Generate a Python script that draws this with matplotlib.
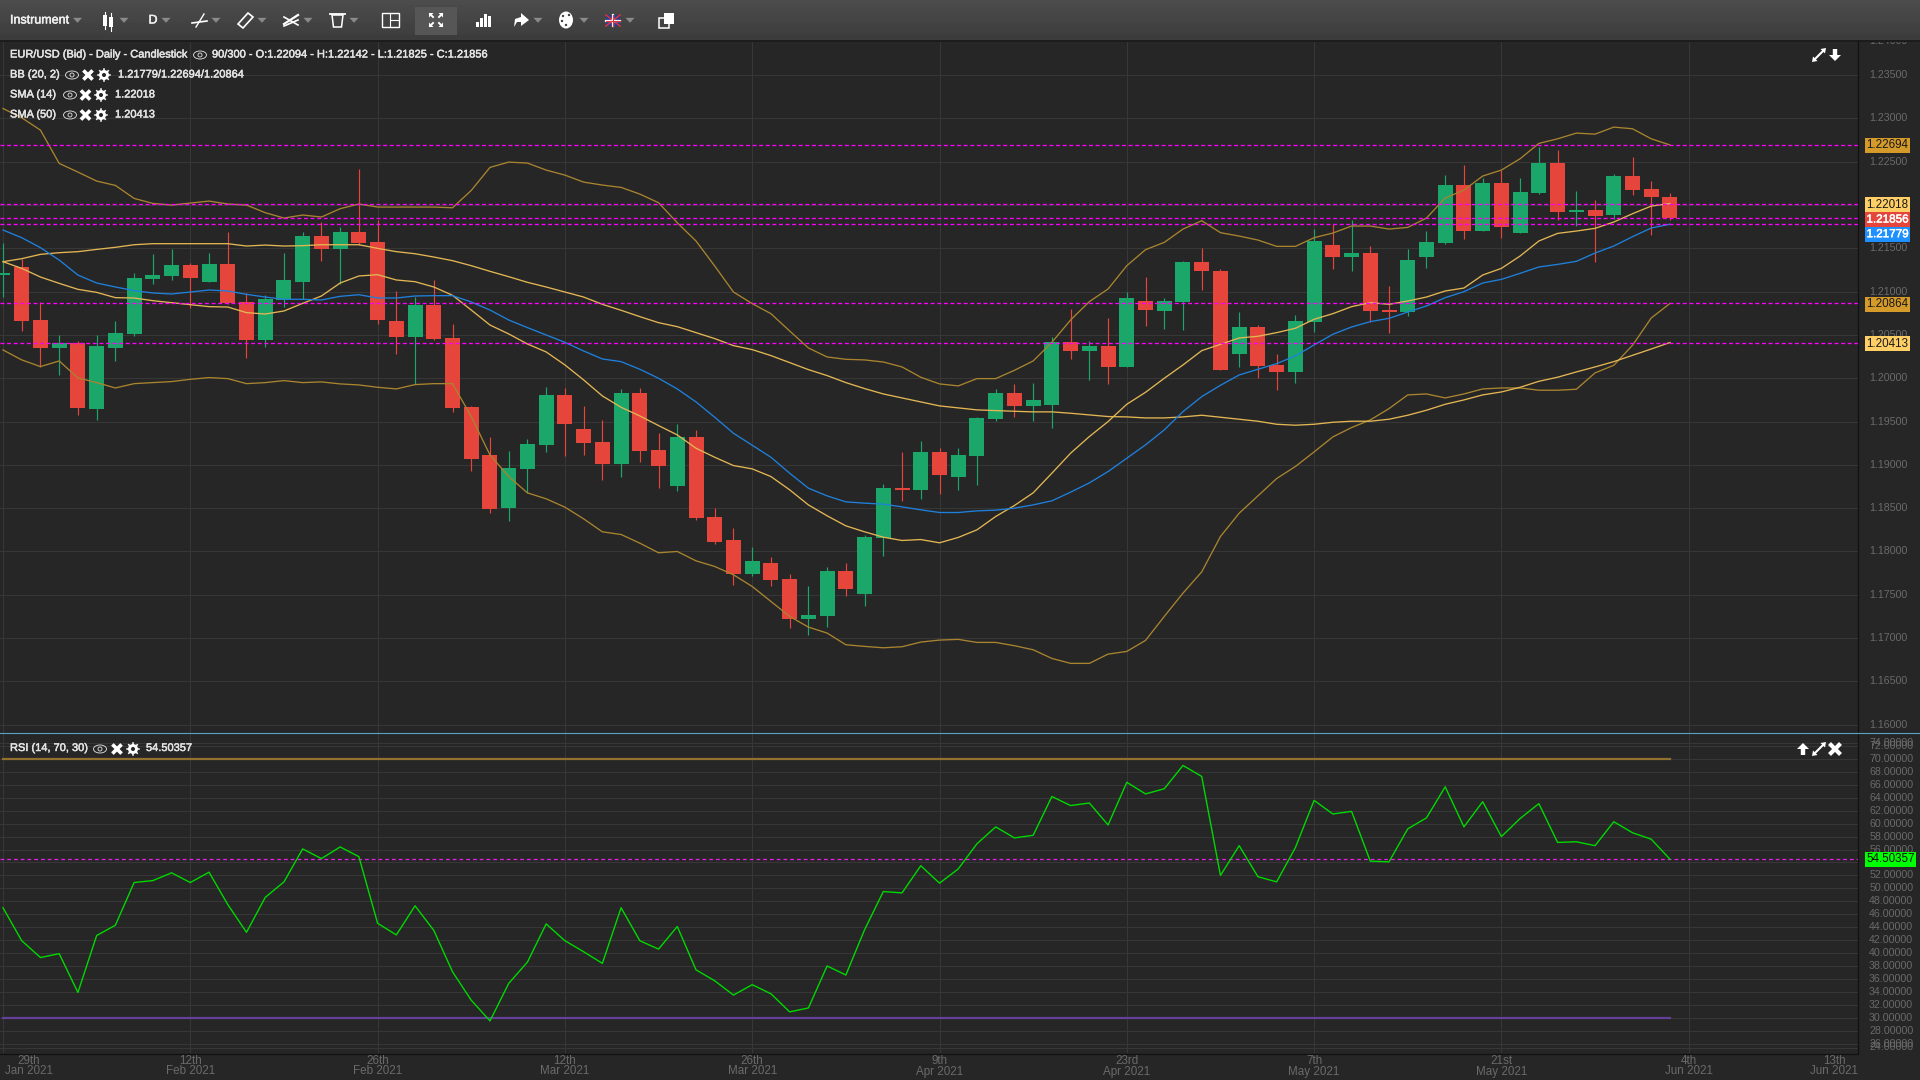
import numpy as np
import matplotlib
matplotlib.use("Agg")
import matplotlib.pyplot as plt
import matplotlib.patheffects as pe
from matplotlib.patches import Rectangle, Ellipse, Circle, Polygon
from matplotlib.transforms import ScaledTranslation

plt.rcParams['font.family'] = ['Liberation Sans', 'DejaVu Sans']

opens = [1.21192,1.21285,1.20673,1.2035,1.20408,1.19646,1.2035,1.20512,1.21146,1.21181,
         1.21308,1.21112,1.21319,1.20881,1.20442,1.20904,1.21112,1.21642,1.21492,1.21688,
         1.21573,1.20662,1.20477,1.20846,1.20465,1.19669,1.19115,1.18504,1.18954,1.19231,
         1.19808,1.19415,1.19265,1.19012,1.19831,1.19173,1.18758,1.19323,1.184,1.18135,
         1.17742,1.17869,1.17685,1.17223,1.17258,1.17777,1.17512,1.18158,1.18735,1.18712,
         1.1915,1.18862,1.19104,1.19531,1.19831,1.19681,1.19692,1.20419,1.20315,1.20373,
         1.20131,1.20892,1.20777,1.20881,1.21342,1.21238,1.20281,1.20592,1.2015,1.20069,
         1.20646,1.21535,1.21396,1.21442,1.20785,1.20762,1.21396,1.21558,1.22227,1.21696,
         1.2225,1.21673,1.22135,1.22481,1.21915,1.21938,1.21881,1.22331,1.22181,1.22094]
closes = [1.21219,1.20662,1.2035,1.20404,1.19658,1.20373,1.20523,1.21158,1.21192,1.21308,
          1.21158,1.21319,1.20869,1.20442,1.20915,1.21135,1.21642,1.21492,1.21688,1.21562,
          1.20673,1.20477,1.20846,1.20454,1.19658,1.19069,1.18492,1.18965,1.19242,1.19808,
          1.19473,1.19254,1.19012,1.19831,1.19162,1.18988,1.19323,1.18388,1.18112,1.17742,
          1.17892,1.17673,1.17223,1.17269,1.17777,1.17569,1.18169,1.18735,1.18712,1.1915,
          1.18885,1.19115,1.19542,1.19831,1.19681,1.1975,1.20419,1.20315,1.20373,1.20131,
          1.20927,1.20788,1.20892,1.21342,1.21238,1.20096,1.20592,1.20138,1.20069,1.20658,
          1.21581,1.21396,1.21442,1.20773,1.20762,1.21362,1.21569,1.22227,1.21696,1.2225,
          1.21742,1.22146,1.22481,1.21915,1.21938,1.21869,1.22331,1.22169,1.22088,1.21856]
highs = [1.21565,1.21373,1.20877,1.205,1.20431,1.205,1.20662,1.21215,1.21435,1.21492,
         1.21331,1.21446,1.21688,1.20981,1.20962,1.21446,1.21688,1.21804,1.21746,1.22417,
         1.21827,1.21008,1.20938,1.21135,1.20627,1.19681,1.19323,1.19162,1.193,1.199,
         1.19888,1.19681,1.19519,1.19877,1.19885,1.19369,1.19473,1.19404,1.18504,1.18273,
         1.18054,1.17938,1.17742,1.17604,1.17823,1.17869,1.18192,1.18781,1.1915,1.19277,
         1.19196,1.19196,1.19554,1.19877,1.19935,1.19946,1.20477,1.208,1.20431,1.20696,
         1.20992,1.21169,1.20927,1.21354,1.21504,1.21262,1.20765,1.20612,1.20277,1.20727,
         1.21719,1.21777,1.21823,1.21523,1.21062,1.21488,1.21696,1.22342,1.22458,1.22308,
         1.224,1.22308,1.22665,1.22631,1.22158,1.22054,1.22354,1.2255,1.22273,1.22142]
lows = [1.20935,1.2055,1.20135,1.20038,1.19577,1.19519,1.20204,1.20488,1.21088,1.21135,
        1.20815,1.21112,1.20858,1.20235,1.20362,1.20827,1.20915,1.21354,1.21088,1.2154,
        1.20627,1.20281,1.19935,1.20442,1.19612,1.18931,1.18446,1.18354,1.18673,1.1915,
        1.19104,1.19115,1.18827,1.18862,1.19035,1.18735,1.187,1.18365,1.18088,1.17615,
        1.17719,1.17604,1.17119,1.17038,1.1713,1.17488,1.17373,1.1795,1.18585,1.18608,
        1.18665,1.18712,1.18769,1.19508,1.19554,1.19508,1.19427,1.20223,1.19981,1.19935,
        1.20125,1.20604,1.20569,1.20558,1.2102,1.20096,1.20131,1.2,1.19862,1.19942,
        1.20531,1.21258,1.21235,1.20646,1.20519,1.20715,1.21269,1.21546,1.21604,1.21696,
        1.21615,1.21673,1.22123,1.21823,1.21754,1.21338,1.21835,1.22112,1.2165,1.21825]
bb_upper = [1.23115,1.23008,1.22865,1.22481,1.22381,1.22277,1.22227,1.22077,1.22019,1.22,
            1.22023,1.22046,1.22012,1.22,1.21912,1.2185,1.21885,1.21862,1.21958,1.22012,
            1.21977,1.21977,1.21977,1.21977,1.21969,1.22169,1.22435,1.22496,1.22485,1.22404,
            1.22346,1.22265,1.22231,1.22204,1.22127,1.22027,1.21796,1.21585,1.21296,1.20996,
            1.20862,1.20746,1.20546,1.2035,1.20246,1.20219,1.20212,1.20188,1.20131,1.20012,
            1.19935,1.19912,1.19996,1.19996,1.20092,1.202,1.20415,1.20673,1.20885,1.21031,
            1.213,1.21485,1.21569,1.21723,1.21819,1.21681,1.21642,1.21596,1.21523,1.21523,
            1.21623,1.21677,1.21758,1.21758,1.21723,1.21742,1.2185,1.22081,1.22173,1.22335,
            1.22404,1.22535,1.22712,1.22765,1.22831,1.22819,1.229,1.22881,1.22765,1.22694]
bb_mid = [1.21712,1.21623,1.21508,1.21365,1.21192,1.211,1.21054,1.21012,1.20985,1.20973,
          1.20996,1.21019,1.21008,1.20969,1.20938,1.20912,1.20912,1.20904,1.20946,1.20965,
          1.20927,1.20927,1.2095,1.20954,1.20954,1.20881,1.20788,1.20673,1.20585,1.205,
          1.20415,1.20315,1.20223,1.20192,1.20104,1.2,1.19877,1.19727,1.1955,1.19365,
          1.19227,1.19088,1.18904,1.18731,1.18642,1.18573,1.18558,1.18546,1.18515,1.18481,
          1.1845,1.1845,1.18469,1.18477,1.185,1.18538,1.18585,1.18685,1.18792,1.18923,
          1.19077,1.19231,1.19404,1.19615,1.19788,1.19919,1.20038,1.20104,1.20169,1.20258,
          1.20385,1.20508,1.20592,1.20654,1.20692,1.20765,1.20835,1.20931,1.21,1.211,
          1.21142,1.21212,1.21285,1.21315,1.2135,1.21446,1.21527,1.21635,1.21735,1.21779]
bb_lower = [1.20327,1.20212,1.20135,1.202,1.20004,1.1995,1.19888,1.19938,1.1995,1.19962,
            1.19988,1.20008,1.19996,1.19938,1.1995,1.19973,1.1995,1.19958,1.19935,1.19923,
            1.19896,1.19877,1.19927,1.19938,1.19938,1.19558,1.19115,1.18865,1.18677,1.18608,
            1.18512,1.18377,1.18227,1.18196,1.18096,1.17985,1.18,1.17892,1.17827,1.17731,
            1.17596,1.17423,1.1725,1.17127,1.17058,1.16923,1.16904,1.16888,1.169,1.16954,
            1.16977,1.16985,1.1695,1.1695,1.16912,1.16865,1.16765,1.16708,1.16708,1.16815,
            1.16846,1.16973,1.1725,1.17519,1.17765,1.18173,1.18442,1.18642,1.18842,1.18981,
            1.1915,1.19323,1.19431,1.19519,1.1965,1.19808,1.19819,1.19773,1.19819,1.19877,
            1.19888,1.19888,1.19862,1.19862,1.19873,1.20062,1.2015,1.20381,1.20696,1.20864]
sma14 = [1.21346,1.21269,1.21169,1.21096,1.21027,1.20992,1.20931,1.20927,1.20896,1.20873,
         1.2085,1.20827,1.20823,1.20758,1.20742,1.20777,1.20865,1.2095,1.211,1.21181,
         1.21196,1.21135,1.21115,1.21054,1.20958,1.20788,1.20615,1.20512,1.20396,1.20304,
         1.20154,1.19981,1.19796,1.19665,1.19565,1.19454,1.19346,1.19192,1.19088,1.18992,
         1.18954,1.18865,1.18712,1.18538,1.18412,1.18296,1.18227,1.18165,1.18127,1.18138,
         1.181,1.18162,1.1825,1.18404,1.18531,1.18677,1.18904,1.19135,1.19327,1.195,
         1.197,1.19838,1.2,1.20154,1.20319,1.20392,1.20465,1.20485,1.20527,1.20577,
         1.20681,1.20746,1.20827,1.20873,1.20854,1.20892,1.20938,1.21008,1.21042,1.21192,
         1.21269,1.21412,1.21585,1.21673,1.217,1.21731,1.21804,1.219,1.21988,1.22018]
sma50 = [1.21346,1.21381,1.21431,1.2145,1.21462,1.21488,1.21512,1.21542,1.21554,1.21554,
         1.21554,1.21554,1.21554,1.21527,1.21538,1.21527,1.21531,1.21542,1.21542,1.21542,
         1.215,1.21462,1.21438,1.214,1.21358,1.213,1.21235,1.21173,1.21108,1.21054,
         1.20996,1.20938,1.20854,1.20785,1.20712,1.20642,1.20596,1.20527,1.20458,1.20377,
         1.20331,1.20262,1.20181,1.201,1.20031,1.1995,1.19881,1.19819,1.19773,1.19727,
         1.19681,1.19658,1.19635,1.19627,1.19619,1.19612,1.19612,1.19596,1.19577,1.19558,
         1.19554,1.19542,1.19542,1.19554,1.19573,1.1955,1.19527,1.19504,1.19469,1.19458,
         1.19469,1.19492,1.19504,1.19504,1.19527,1.19573,1.19631,1.197,1.1975,1.19808,
         1.19842,1.19896,1.19965,1.20012,1.20073,1.20131,1.20192,1.20265,1.20338,1.20413]
rsi = [47.0,41.9,39.3,39.9,33.9,42.7,44.3,50.9,51.2,52.4,
       50.9,52.5,47.5,43.2,48.6,51.0,56.1,54.6,56.4,54.9,
       44.6,42.8,47.3,43.5,37.1,32.7,29.5,35.3,38.6,44.5,
       41.9,40.2,38.4,47.0,41.9,40.6,44.1,37.4,35.7,33.5,
       35.1,33.7,30.9,31.5,38.0,36.6,43.6,49.5,49.3,53.5,
       50.8,53.0,56.9,59.5,57.8,58.2,64.2,62.8,63.2,59.8,
       66.4,64.6,65.4,69.0,67.3,52.0,56.6,51.8,51.0,56.3,
       63.6,61.5,61.9,54.2,54.1,59.2,60.9,65.7,59.5,63.4,
       58.0,60.8,63.1,57.1,57.2,56.6,60.3,58.6,57.6,54.50357]

price_levels = [1.22694, 1.22018, 1.21856, 1.21779, 1.20864, 1.20413]
price_ticks = [1.16,1.165,1.17,1.175,1.18,1.185,1.19,1.195,1.20,1.205,1.21,1.215,1.22,1.225,1.23,1.235]
rsi_ticks = list(range(26, 74, 2))
date_ticks = [0,10,20,30,40,50,60,70,80,90,100]
date_top = ['29th','12th','26th','12th','26th','9th','23rd','7th','21st','4th','13th']
date_bot = ['Jan 2021','Feb 2021','Feb 2021','Mar 2021','Mar 2021','Apr 2021','Apr 2021','May 2021','May 2021','Jun 2021','Jun 2021']

BG = '#262626'; GRID = '#373737'; TICK = '#6a6a6a'
GREEN = '#1ba76a'; RED = '#e5453b'; BB_C = '#a8842f'; SMA_C = '#e3b654'; BLUE = '#1f80dc'
MAG = '#ff00ff'

W, H = 1920, 1080
fig = plt.figure(figsize=(W/100, H/100), dpi=100, facecolor=BG)

def make_axes(top, bottom, right=1858):
    a = fig.add_axes([0, 1-bottom/H, right/W, (bottom-top)/H], facecolor=BG)
    for s in a.spines.values():
        s.set_visible(False)
    return a

idx = np.arange(len(opens))
xlim = (-3/18.73, 1855/18.73)
lift = ScaledTranslation(0, 1/100, fig.dpi_scale_trans)

ax = make_axes(40, 733)
ax.set_xlim(*xlim); ax.set_ylim(1.15904, 1.23906)
ax.set_yticks(price_ticks)
ax.set_yticklabels([f'{t:.5f}' for t in price_ticks])
ax.yaxis.tick_right()
ax.tick_params(axis='y', length=0, pad=8, labelsize=7.7, labelcolor=TICK)
ax.tick_params(axis='x', length=0, labelbottom=False)
ax.set_xticks(date_ticks[:-1])
ax.grid(True, color=GRID, lw=0.8, zorder=1)
ax.set_axisbelow(True)
for lab in ax.get_yticklabels():
    lab.set_transform(lab.get_transform() + lift)

o, c, hi, lo = map(np.array, (opens, closes, highs, lows))
col = [GREEN if cc > oo else RED for oo, cc in zip(o, c)]
ax.vlines(idx, lo, hi, colors=col, lw=0.85, zorder=3)
ax.bar(idx, np.abs(c-o), bottom=np.minimum(o, c), width=0.8, color=col, lw=0, zorder=3)

ax.plot(idx, bb_upper, color=BB_C, lw=0.95, zorder=4)
ax.plot(idx, bb_lower, color=BB_C, lw=0.95, zorder=4)
ax.plot(idx, sma50, color=SMA_C, lw=0.95, zorder=4)
ax.plot(idx, sma14, color=SMA_C, lw=0.95, zorder=4)
ax.plot(idx, bb_mid, color=BLUE, lw=0.95, zorder=4)
for lv in price_levels:
    ax.axhline(lv, color=MAG, lw=0.95, dashes=(3.0, 2.0), zorder=5)

ax2 = make_axes(733, 1053)
ax2.set_xlim(*xlim); ax2.set_ylim(24.54, 74.02)
ax2.set_yticks(rsi_ticks)
ax2.set_yticklabels([f'{t:.5f}' for t in rsi_ticks])
ax2.yaxis.tick_right()
ax2.tick_params(axis='y', length=0, pad=8, labelsize=7.7, labelcolor=TICK)
ax2.tick_params(axis='x', length=0, labelbottom=False)
ax2.set_xticks(date_ticks[:-1])
ax2.grid(True, color=GRID, lw=0.8, zorder=1)
ax2.set_axisbelow(True)
for lab in ax2.get_yticklabels():
    lab.set_transform(lab.get_transform() + lift)
ax2.axhline(72.43, color=GRID, lw=0.8, zorder=1)
ax2.axhline(25.3, color=GRID, lw=0.8, zorder=1)
ax2.plot([0, 89], [70, 70], color='#927030', lw=1.6, zorder=3)
ax2.plot([0, 89], [30, 30], color='#64409a', lw=1.6, zorder=3)
ax2.axhline(rsi[-1], color='#e81fe8', lw=0.9, dashes=(3.0, 2.4), zorder=4)
ax2.plot(idx, rsi, color='#00d800', lw=1.0, zorder=5)

# overlay in pixels for chrome, value boxes and icons
ov = fig.add_axes([0, 0, 1, 1], zorder=10)
ov.patch.set_alpha(0)
ov.axis('off')

grad = np.linspace(0.30, 0.235, 40).reshape(-1, 1)
ov.imshow(grad, extent=[0, W, 40, 0], aspect='auto', cmap='gray', vmin=0, vmax=1, zorder=1)
ov.set_xlim(0, W); ov.set_ylim(H, 0)
ov.add_patch(Rectangle((0, 40), W, 1.5, color='#1c1c1c', lw=0, zorder=1))

def T(x, y, s, size=7.7, color='#e4e4e4', ha='left', bold=False, z=5, **kw):
    t = ov.text(x, y, s, fontsize=size, color=color, ha=ha, va='center', zorder=z, **kw)
    if bold:
        t.set_path_effects([pe.withStroke(linewidth=0.35, foreground=color)])
    return t

# axis borders
ov.plot([1858, 1858], [41, 1053], color='#111111', lw=0.9, zorder=2)
ov.plot([0, 1858], [1053.5, 1053.5], color='#111111', lw=0.9, zorder=2)
ov.plot([0, W], [733, 733], color='#5aa3c4', lw=0.8, zorder=2)

# clamped axis labels: 1.24000 is half hidden by the toolbar
T(1869, 41.5, '1.24000', color=TICK, z=0.5)
T(1869, 743, '74.00000', color=TICK)
T(1869, 1046.5, '24.00000', color=TICK)

# x labels, clamped like the original
for t, a, b in zip(date_ticks, date_top, date_bot):
    px = ax.transData.transform((t, 0))[0]
    px = min(max(px, 29), 1834)
    T(px, 1060.5, a, size=8.4, color=TICK, ha='center')
    T(px, 1071.5, b, size=8.4, color=TICK, ha='center')

# value boxes
def box(value, axis, fc, tc, xr=1910, shift=0, bold=False):
    y = H - axis.transData.transform((0, value))[1] + shift
    ov.add_patch(Rectangle((1865, y-7.4), xr-1865, 14.8, fc=fc, lw=0, zorder=4))
    T((1865+xr)/2, y, f'{value:.5f}', size=8.4, color=tc, ha='center', bold=bold)

box(price_levels[0], ax, '#d49a2a', '#1a1a1a', shift=0.5)
box(price_levels[1], ax, '#ffcf66', '#1a1a1a', shift=1)
box(price_levels[3], ax, '#1e90ff', '#ffffff', shift=10, bold=True)
box(price_levels[2], ax, '#e5453b', '#ffffff', shift=2, bold=True)
box(price_levels[4], ax, '#d49a2a', '#1a1a1a', shift=1)
box(price_levels[5], ax, '#ffcf66', '#1a1a1a', shift=1)
box(rsi[-1], ax2, '#00ff00', '#111111', xr=1916)

# icons
def eye(x, y):
    ov.add_patch(Ellipse((x, y), 13, 8, fc='none', ec='#cfcfcf', lw=0.7, zorder=5))
    ov.add_patch(Circle((x, y), 2.0, fc='none', ec='#cfcfcf', lw=0.7, zorder=5))

def cross(x, y, r=4.6, lw=2.6):
    ov.plot([x-r, x+r], [y-r, y+r], color='white', lw=lw, zorder=5, solid_capstyle='butt')
    ov.plot([x-r, x+r], [y+r, y-r], color='white', lw=lw, zorder=5, solid_capstyle='butt')

def gear(x, y):
    ov.add_patch(Circle((x, y), 3.6, fc='none', ec='white', lw=2.0, zorder=5))
    for a in np.arange(0, np.pi, np.pi/4):
        ov.plot([x-6*np.cos(a), x+6*np.cos(a)], [y-6*np.sin(a), y+6*np.sin(a)],
                color='white', lw=1.1, zorder=4.5)
    ov.add_patch(Circle((x, y), 2.0, fc=BG, lw=0, zorder=5))

def expand(x, y):
    ov.plot([x-4, x+4], [y+4, y-4], color='white', lw=1.5, zorder=5)
    ov.add_patch(Polygon([[x+7, y-7], [x+1.5, y-6], [x+6, y-1.5]], fc='white', lw=0, zorder=5))
    ov.add_patch(Polygon([[x-7, y+7], [x-1.5, y+6], [x-6, y+1.5]], fc='white', lw=0, zorder=5))

def arrow(x, y, up=True):
    s = -1 if up else 1
    ov.add_patch(Polygon([[x-2.2, y-s*6], [x+2.2, y-s*6], [x+2.2, y], [x+6, y], [x, y+s*6], [x-6, y], [x-2.2, y]],
                         fc='white', lw=0, zorder=5))

# legend rows
LS = 7.95
T(10, 54.5, 'EUR/USD (Bid) - Daily - Candlestick', size=LS, bold=True)
eye(200, 55)
T(212, 54.5, '90/300 - O:1.22094 - H:1.22142 - L:1.21825 - C:1.21856', size=LS, bold=True)
T(10, 74.5, 'BB (20, 2)', size=LS, bold=True)
eye(72, 75); cross(88, 75); gear(104, 75)
T(118, 74.5, '1.21779/1.22694/1.20864', size=LS, bold=True)
T(10, 94.5, 'SMA (14)', size=LS, bold=True)
eye(70, 95); cross(85.5, 95); gear(101, 95)
T(115, 94.5, '1.22018', size=LS, bold=True)
T(10, 114.5, 'SMA (50)', size=LS, bold=True)
eye(70, 115); cross(85.5, 115); gear(101, 115)
T(115, 114.5, '1.20413', size=LS, bold=True)
T(10, 748, 'RSI (14, 70, 30)', size=LS, bold=True)
eye(100, 749); cross(117, 749); gear(133, 749)
T(146, 748, '54.50357', size=LS, bold=True)

expand(1819, 55); arrow(1835, 55, up=False)
arrow(1803, 749, up=True); expand(1819, 749); cross(1835, 749, r=5.5, lw=3)

# toolbar
def caret(x, y=20):
    ov.add_patch(Polygon([[x-4.5, y-2.2], [x+4.5, y-2.2], [x, y+2.8]], fc='#8a8a8a', lw=0, zorder=5))

T(10, 20.5, 'Instrument', size=9.0, color='#f0f0f0', bold=True)
for cx in (77.5, 124, 166, 216, 262, 308, 354, 538, 584, 630):
    caret(cx)
# candle icon
ov.add_patch(Rectangle((102.5, 15), 4, 11, fc='white', lw=0, zorder=5))
ov.add_patch(Rectangle((108.5, 17), 4, 10, fc='white', lw=0, zorder=5))
ov.plot([104.5, 104.5], [12, 29], color='white', lw=0.8, zorder=5)
ov.plot([110.5, 110.5], [13, 31], color='white', lw=0.8, zorder=5)
T(153, 20.5, 'D', size=9.0, color='#f0f0f0', ha='center', bold=True)
# line tool
ov.plot([192, 207], [23, 21], color='white', lw=1.2, zorder=5)
ov.plot([196, 204], [27, 14], color='white', lw=1.0, zorder=5)
# ruler
ov.add_patch(Polygon([[238, 24], [248, 13], [253, 17], [243, 28]], fc='none', ec='white', lw=1.2, zorder=5))
# crossed tool
ov.plot([284, 298], [17, 25], color='white', lw=1.2, zorder=5)
ov.plot([284, 298], [24, 15], color='white', lw=1.6, zorder=5)
ov.plot([284, 298], [26, 20], color='white', lw=1.2, zorder=5)
# trash
ov.add_patch(Polygon([[332, 15], [343, 15], [341.5, 27], [333.5, 27]], fc='none', ec='white', lw=1.1, zorder=5))
ov.plot([330, 345], [14, 14], color='white', lw=1.3, zorder=5)
# layout
ov.add_patch(Rectangle((381.5, 13), 17, 14, fc='none', ec='white', lw=1.0, zorder=5))
ov.plot([390, 390], [13, 27], color='white', lw=0.8, zorder=5)
ov.plot([390, 398.5], [20, 20], color='white', lw=0.8, zorder=5)
# highlighted fullscreen
ov.add_patch(Rectangle((415, 7), 42, 28, fc='#565656', lw=0, zorder=3))
for sx, sy in ((-1, -1), (1, -1), (-1, 1), (1, 1)):
    ov.add_patch(Polygon([[436+sx*7, 20+sy*7], [436+sx*2.5, 20+sy*7], [436+sx*7, 20+sy*2.5]],
                         fc='white', lw=0, zorder=5))
    ov.plot([436+sx*6, 436+sx*3], [20+sy*6, 20+sy*3], color='white', lw=1.4, zorder=5)
# bars icon
for bx, by in ((476, 22), (480, 18), (484, 14), (488, 16)):
    ov.add_patch(Rectangle((bx, by), 2.6, 27-by, fc='white', lw=0, zorder=5))
# share arrow
ov.add_patch(Polygon([[514, 27], [515, 19], [521, 17], [521, 13], [529, 20], [521, 26], [521, 22], [517, 22]],
                     fc='white', lw=0, zorder=5))
# palette
ov.add_patch(Ellipse((566, 20), 14, 17, fc='white', lw=0, zorder=5))
for px, py in ((563, 16), (569, 15), (562, 21), (566, 25)):
    ov.add_patch(Circle((px, py), 1.2, fc='#3c3c3c', lw=0, zorder=5))
# flag
ov.add_patch(Rectangle((606, 15), 14, 11, fc='#2a3c8c', lw=0, zorder=5))
ov.plot([606, 620], [15, 26], color='#e03040', lw=1.1, zorder=5)
ov.plot([606, 620], [26, 15], color='#e03040', lw=1.1, zorder=5)
ov.plot([613, 613], [15, 26], color='#f4f4f4', lw=1.6, zorder=5)
ov.plot([606, 620], [20.5, 20.5], color='#f4f4f4', lw=1.6, zorder=5)
ov.plot([613, 613], [15, 26], color='#e03040', lw=0.7, zorder=5)
ov.plot([606, 620], [20.5, 20.5], color='#e03040', lw=0.7, zorder=5)
# copy
ov.add_patch(Rectangle((659, 18), 10, 10, fc='none', ec='white', lw=1.1, zorder=5))
ov.add_patch(Rectangle((664, 13), 10, 11, fc='white', lw=0, zorder=6))

fig.savefig('out.png', dpi=100, facecolor=BG)
